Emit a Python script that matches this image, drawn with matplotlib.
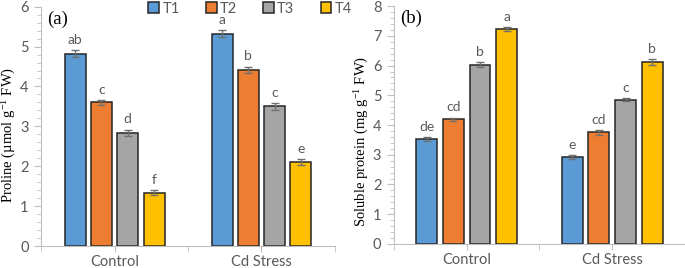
import matplotlib
matplotlib.use('Agg')
import matplotlib.pyplot as plt
import numpy as np
from matplotlib.ticker import MultipleLocator, FixedLocator
from matplotlib.patches import Patch

plt.rcParams['font.family'] = ['Lato', 'DejaVu Sans']
plt.rcParams['mathtext.fontset'] = 'custom'
plt.rcParams['mathtext.rm'] = 'Liberation Serif'
plt.rcParams['mathtext.it'] = 'Liberation Serif:italic'

# data
groups = ['Control', 'Cd Stress']
treatments = ['T1', 'T2', 'T3', 'T4']
colors = ['#5B9BD5', '#ED7D31', '#A5A5A5', '#FFC000']

proline = [[4.82, 3.60, 2.84, 1.34], [5.32, 4.42, 3.50, 2.10]]
proline_err = [[0.09, 0.06, 0.08, 0.07], [0.09, 0.08, 0.08, 0.08]]
proline_letters = [['ab', 'c', 'd', 'f'], ['a', 'b', 'c', 'e']]

protein = [[3.53, 4.20, 6.03, 7.22], [2.93, 3.75, 4.85, 6.12]]
protein_err = [[0.06, 0.05, 0.09, 0.07], [0.06, 0.08, 0.05, 0.09]]
protein_letters = [['de', 'cd', 'b', 'a'], ['e', 'cd', 'c', 'b']]

gray = '#595959'

fig = plt.figure(figsize=(6.85, 2.68), dpi=100)
ax1 = fig.add_axes([0.060, 0.082, 0.429, 0.893])
ax2 = fig.add_axes([0.575, 0.090, 0.425, 0.887])


def draw(ax, vals, errs, letters, ymax, ylabel, tag, spacing, label_xy):
    width = 0.143
    for g in range(len(groups)):
        for i in range(len(treatments)):
            x = g + (i - 1.5) * spacing
            ax.bar(x, vals[g][i], width, color=colors[i], edgecolor='#262626',
                   linewidth=1.1, zorder=2)
            ax.errorbar(x, vals[g][i], yerr=errs[g][i], ecolor='#707070',
                        elinewidth=1, capsize=3, capthick=1, zorder=3)
            ax.annotate(letters[g][i], (x, vals[g][i] + errs[g][i]),
                        xytext=(0, 3), textcoords='offset points',
                        ha='center', va='bottom', fontsize=10, color=gray)
    ax.set_xlim(-0.5, 1.5)
    ax.set_ylim(0, ymax)
    ax.yaxis.set_major_locator(MultipleLocator(1))
    ax.yaxis.set_minor_locator(MultipleLocator(0.2))
    ax.xaxis.set_major_locator(FixedLocator([0, 1]))
    ax.xaxis.set_minor_locator(FixedLocator([-0.5, 0.5, 1.5]))
    ax.set_xticklabels(groups)
    for s in ['top', 'right']:
        ax.spines[s].set_visible(False)
    for s in ['left', 'bottom']:
        ax.spines[s].set_color('#bfbfbf')
        ax.spines[s].set_linewidth(0.8)
    ax.tick_params(axis='both', which='both', colors='#bfbfbf', labelcolor=gray,
                   labelsize=10.5)
    ax.tick_params(axis='y', which='major', length=5, pad=4)
    ax.tick_params(axis='y', which='minor', length=3)
    ax.tick_params(axis='x', which='both', length=4, pad=2.5)
    ax.set_ylabel(ylabel, family='Liberation Serif', fontsize=10.5, color='black')
    ax.yaxis.set_label_coords(*label_xy)
    ax.text(0.02, 0.985, tag, transform=ax.transAxes, family='Liberation Serif',
            fontsize=13.5, va='top', ha='left')


draw(ax1, proline, proline_err, proline_letters, 6,
     r'Proline (µmol g$^{-1}$ FW)', '(a)', 0.179, (-0.077, 0.464))
draw(ax2, protein, protein_err, protein_letters, 8,
     r'Soluble protein (mg g$^{-1}$ FW)', '(b)', 0.183, (-0.078, 0.433))

handles = [Patch(facecolor=c, edgecolor='#262626', linewidth=1.1) for c in colors]
fig.legend(handles, treatments, loc='center', bbox_to_anchor=(0.365, 0.968),
           ncol=4, frameon=False, fontsize=10.5, handlelength=0.75, handleheight=0.75,
           handletextpad=0.2, columnspacing=1.8, labelcolor=gray,
           borderpad=0.2)

fig.savefig('out.png', dpi=100)
